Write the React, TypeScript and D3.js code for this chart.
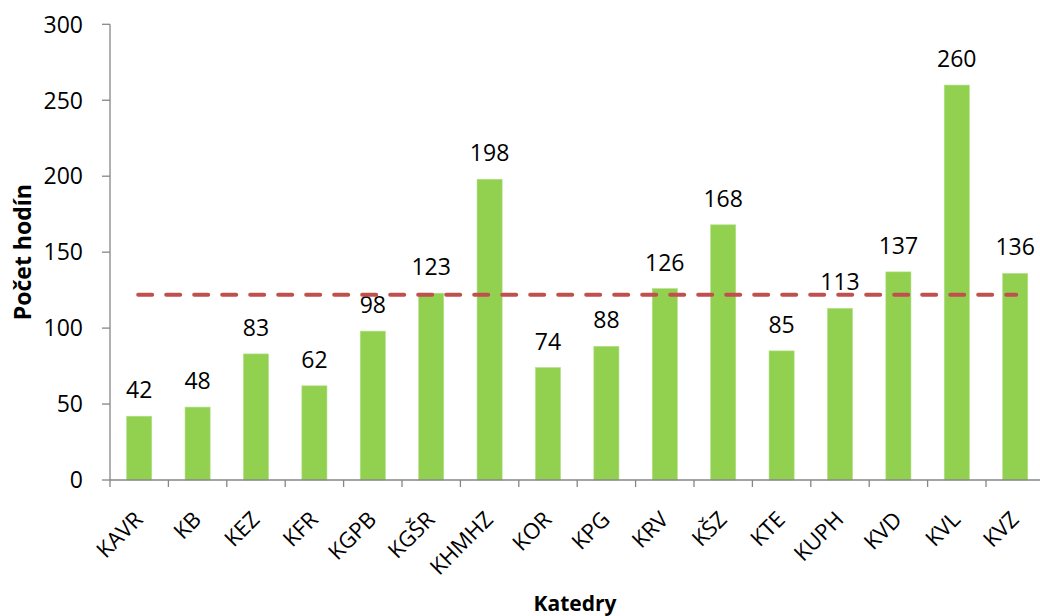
import { useEffect, useRef } from "react";
import * as d3 from "d3";

const categories = ["KAVR", "KB", "KEZ", "KFR", "KGPB", "KGŠR", "KHMHZ", "KOR", "KPG", "KRV", "KŠZ", "KTE", "KUPH", "KVD", "KVL", "KVZ"];
const hours = [42, 48, 83, 62, 98, 123, 198, 74, 88, 126, 168, 85, 113, 137, 260, 136];
const yTicks = [0, 50, 100, 150, 200, 250, 300];
const referenceLevel = 122;

const WIDTH = 1040;
const HEIGHT = 616;
const FONT = "'Open Sans', 'DejaVu Sans', sans-serif";

export default function App() {
  const svgRef = useRef<SVGSVGElement | null>(null);

  useEffect(() => {
    document.body.style.margin = "0";
    const svgEl = svgRef.current;
    if (!svgEl) return;
    const svg = d3.select(svgEl);
    svg.selectAll("*").remove();

    const left = 110;
    const step = 58.4;
    const x = d3
      .scaleBand<string>()
      .domain(categories)
      .range([left, left + step * categories.length])
      .paddingInner(0.57)
      .paddingOuter(0.285);
    const y = d3.scaleLinear().domain([0, 300]).range([480, 24.3]);

    const axisColor = "#868686";

    // bars
    svg
      .append("g")
      .selectAll("rect")
      .data(hours)
      .enter()
      .append("rect")
      .attr("x", (_d, i) => x(categories[i]) ?? 0)
      .attr("y", (d) => y(d))
      .attr("width", x.bandwidth())
      .attr("height", (d) => y(0) - y(d))
      .attr("fill", "#92D050")
      .attr("stroke", "#b5e08a")
      .attr("stroke-width", 0.6);

    // value labels
    svg
      .append("g")
      .selectAll("text")
      .data(hours)
      .enter()
      .append("text")
      .text((d) => d)
      .attr("x", (_d, i) => (x(categories[i]) ?? 0) + x.bandwidth() / 2)
      .attr("y", (d) => y(d) - 18)
      .attr("text-anchor", "middle")
      .attr("font-family", FONT)
      .attr("font-size", 23)
      .attr("fill", "#000");

    // y axis
    const yAxis = svg.append("g");
    yAxis
      .append("line")
      .attr("x1", left)
      .attr("x2", left)
      .attr("y1", y(300))
      .attr("y2", y(0))
      .attr("stroke", axisColor)
      .attr("stroke-width", 1.3);
    yTicks.forEach((t) => {
      yAxis
        .append("line")
        .attr("x1", left - 8)
        .attr("x2", left)
        .attr("y1", y(t))
        .attr("y2", y(t))
        .attr("stroke", axisColor)
        .attr("stroke-width", 1.3);
      yAxis
        .append("text")
        .text(t)
        .attr("x", 83)
        .attr("y", y(t))
        .attr("dy", "0.36em")
        .attr("text-anchor", "end")
        .attr("font-family", FONT)
        .attr("font-size", 23)
        .attr("fill", "#000");
    });

    // x axis
    const xAxis = svg.append("g");
    xAxis
      .append("line")
      .attr("x1", left)
      .attr("x2", WIDTH)
      .attr("y1", y(0))
      .attr("y2", y(0))
      .attr("stroke", axisColor)
      .attr("stroke-width", 1.3);
    d3.range(categories.length + 1).forEach((i) => {
      const tx = left + x.step() * i;
      xAxis
        .append("line")
        .attr("x1", tx)
        .attr("x2", tx)
        .attr("y1", y(0))
        .attr("y2", y(0) + 7)
        .attr("stroke", axisColor)
        .attr("stroke-width", 1.3);
    });
    categories.forEach((c) => {
      const cx = (x(c) ?? 0) + x.bandwidth() / 2 - 6;
      const cy = 510;
      xAxis
        .append("text")
        .text(c)
        .attr("transform", `translate(${cx},${cy}) rotate(-45)`)
        .attr("dy", "0.7em")
        .attr("text-anchor", "end")
        .attr("font-family", FONT)
        .attr("font-size", 22)
        .attr("fill", "#000");
    });

    // reference line
    const first = (x(categories[0]) ?? 0) + x.bandwidth() / 2;
    const last = (x(categories[categories.length - 1]) ?? 0) + x.bandwidth() / 2;
    svg
      .append("line")
      .attr("x1", first - 1)
      .attr("x2", last + 1)
      .attr("y1", y(referenceLevel))
      .attr("y2", y(referenceLevel))
      .attr("stroke", "#C0504D")
      .attr("stroke-width", 4)
      .attr("stroke-dasharray", "14 14")
      .attr("stroke-linecap", "round");

    // titles
    svg
      .append("text")
      .text("Katedry")
      .attr("x", (left + WIDTH) / 2)
      .attr("y", 611)
      .attr("text-anchor", "middle")
      .attr("font-family", FONT)
      .attr("font-size", 21)
      .attr("font-weight", 700)
      .attr("fill", "#000");
    svg
      .append("text")
      .text("Počet hodín")
      .attr("transform", `translate(31,${(y(0) + y(300)) / 2}) rotate(-90)`)
      .attr("text-anchor", "middle")
      .attr("font-family", FONT)
      .attr("font-size", 23)
      .attr("font-weight", 700)
      .attr("fill", "#000");
  }, []);

  return (
    <svg
      ref={svgRef}
      width={WIDTH}
      height={HEIGHT}
      style={{ display: "block", background: "#fff" }}
      role="img"
      aria-label="Počet hodín podľa katedier"
    />
  );
}
